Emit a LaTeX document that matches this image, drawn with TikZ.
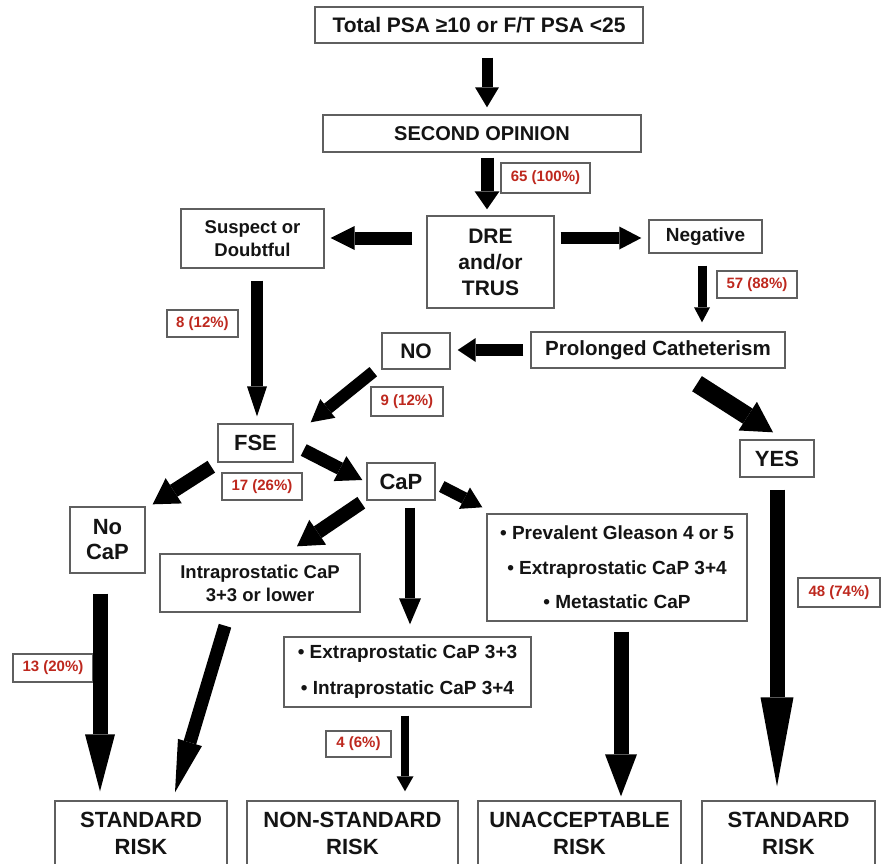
\documentclass[tikz,border=0pt]{standalone}
\usepackage{fontspec}
\setmainfont{Liberation Sans}
\usetikzlibrary{arrows.meta,calc}
\definecolor{labred}{RGB}{190,40,30}
\definecolor{boxgray}{RGB}{95,95,95}
\definecolor{ink}{RGB}{20,20,20}
\begin{document}
\begin{tikzpicture}[x=1pt,y=-1pt,
  box/.style={draw=boxgray,line width=1.4pt,fill=white,inner sep=0pt,text=ink,align=center},
  fs/.style n args={2}{font=\bfseries\fontsize{#1}{#2}\selectfont},
  sz/.style n args={2}{minimum width=#1pt,minimum height=#2pt},
  lab/.style={draw=boxgray,line width=1.1pt,fill=white,inner sep=0pt,text=labred,font=\bfseries\fontsize{15}{18}\selectfont},
  arr/.style n args={3}{draw=black,line width=#1pt,-{Triangle[width=#2pt,length=#3pt,line width=0pt]}}]
\useasboundingbox (0,0) rectangle (883,864);
\clip (0,0) rectangle (883,864);
\fill[white] (0,0) rectangle (883,864);

% nodes
\node[box,sz={328}{36},fs={21}{25}] (psa) at (479,25) {Total PSA ≥10 or F/T PSA <25};
\node[box,sz={318}{37},fs={20}{24}] (second) at (482,133.5) {SECOND OPINION};
\node[lab,sz={89}{30}] (lab65) at (545.5,178) {65 (100\%)};
\node[box,sz={127}{92},fs={21}{26}] (dre) at (490.5,262) {DRE\\and/or\\TRUS};
\node[box,sz={143}{59},fs={18.5}{23}] (suspect) at (252.5,238.5) {Suspect or\\Doubtful};
\node[box,sz={113}{33},fs={19}{23}] (negative) at (705.5,236.5) {Negative};
\node[lab,sz={80}{27}] (lab57) at (757,284.5) {57 (88\%)};
\node[box,sz={254}{36},fs={20.5}{24}] (prolonged) at (658,350) {Prolonged Catheterism};
\node[box,sz={68}{36},fs={21}{25}] (no) at (416,351) {NO};
\node[lab,sz={72}{29}] (lab9) at (407,401.5) {9 (12\%)};
\node[lab,sz={71}{27}] (lab8) at (202.5,323.5) {8 (12\%)};
\node[box,sz={75}{38},fs={22}{26}] (fse) at (255.5,443) {FSE};
\node[lab,sz={80}{27}] (lab17) at (262,486.5) {17 (26\%)};
\node[box,sz={68}{37},fs={22}{26}] (cap) at (401,481.5) {CaP};
\node[box,sz={75}{66},fs={22}{25}] (nocap) at (107.5,540) {No\\CaP};
\node[box,sz={200}{58},fs={18.5}{23}] (intra) at (260,583) {Intraprostatic CaP\\3+3 or lower};
\node[box,sz={260}{107},fs={19}{34.5}] (prev) at (617,567.5) {• Prevalent Gleason 4 or 5\\• Extraprostatic CaP 3+4\\• Metastatic CaP};
\node[box,sz={247}{70},fs={19}{36}] (extra) at (407.5,672) {• Extraprostatic CaP 3+3\\• Intraprostatic CaP 3+4};
\node[lab,sz={65}{26}] (lab4) at (358.5,744) {4 (6\%)};
\node[lab,sz={80}{28}] (lab13) at (53,668) {13 (20\%)};
\node[box,sz={74}{37},fs={22}{26}] (yes) at (777,458.5) {YES};
\node[lab,sz={82}{29}] (lab48) at (839,592.5) {48 (74\%)};

% bottom boxes (cut by the lower edge)
\node[box,sz={172}{100}] (std1) at (141,851) {};
\node[box,sz={211}{100}] (nonstd) at (352.5,851) {};
\node[box,sz={203}{100}] (unacc) at (579.5,851) {};
\node[box,sz={173}{100}] (std2) at (788.5,851) {};
\node[text=ink,align=center,inner sep=0pt,fs={22}{27}] (std1t) at ($(std1.north)+(0,33)$) {STANDARD\\RISK};
\node[text=ink,align=center,inner sep=0pt,fs={22}{27}] (nonstdt) at ($(nonstd.north)+(0,33)$) {NON-STANDARD\\RISK};
\node[text=ink,align=center,inner sep=0pt,fs={22}{27}] (unacct) at ($(unacc.north)+(0,33)$) {UNACCEPTABLE\\RISK};
\node[text=ink,align=center,inner sep=0pt,fs={22}{27}] (std2t) at ($(std2.north)+(0,33)$) {STANDARD\\RISK};

% arrows
\draw[arr={11}{24}{20}] ($(psa.south)+(8,14)$) -- ($(second.north)+(5,-7)$);
\draw[arr={13}{25}{18}] ($(second.south)+(5,5)$) -- ($(dre.north)+(-3.5,-6)$);
\draw[arr={13}{24}{24}] ($(dre.west)+(-14,-24)$) -- ($(suspect.east)+(6,-0.5)$);
\draw[arr={12}{23}{22}] ($(dre.east)+(6,-24)$) -- ($(negative.west)+(-7,1.5)$);
\draw[arr={9}{16}{15}] ($(negative.south)+(-3.5,12)$) -- ($(prolonged.north)+(44,-9)$);
\draw[arr={12}{24}{18}] ($(prolonged.west)+(-7,0)$) -- ($(no.east)+(7,-1)$);
\draw[arr={12}{24}{22}] ($(no.south west)+(-8,2)$) -- ($(fse.north east)+(17,-1)$);
\draw[arr={12}{20}{30}] ($(suspect.south)+(4.5,12)$) -- ($(fse.north)+(1.5,-7)$);
\draw[arr={14}{30}{25}] ($(fse.south west)+(-6,4)$) -- ($(nocap.north east)+(7,-2)$);
\draw[arr={13}{28}{25}] ($(fse.east)+(10,7)$) -- ($(cap.west)+(-4,-1.5)$);
\draw[arr={14}{30}{25}] ($(cap.south west)+(-5,2)$) -- ($(intra.north)+(37,-7)$);
\draw[arr={10}{22}{26}] ($(cap.south)+(9,7)$) -- ($(extra.north)+(2.5,-12)$);
\draw[arr={12}{24}{20}] ($(cap.east)+(6,5)$) -- ($(prev.north west)+(-4,-6)$);
\draw[arr={18}{34}{30}] ($(prolonged.south)+(39,15)$) -- ($(yes.north)+(-4,-7)$);
\draw[arr={15}{33}{89}] ($(yes.south)+(0,12)$) -- ($(std2.north)+(-11.5,-14)$);
\draw[arr={15}{32}{42}] ($(prev.south)+(4,10)$) -- ($(unacc.north)+(41.5,-4)$);
\draw[arr={15}{30}{57}] ($(nocap.south)+(-7.5,20)$) -- ($(std1.north)+(-41,-9)$);
\draw[arr={13}{25}{52}] ($(intra.south)+(-35,13)$) -- ($(std1.north)+(34,-8)$);
\draw[arr={8}{17}{15}] ($(extra.south)+(-2.5,8)$) -- ($(nonstd.north)+(52.5,-9)$);
\end{tikzpicture}
\end{document}
